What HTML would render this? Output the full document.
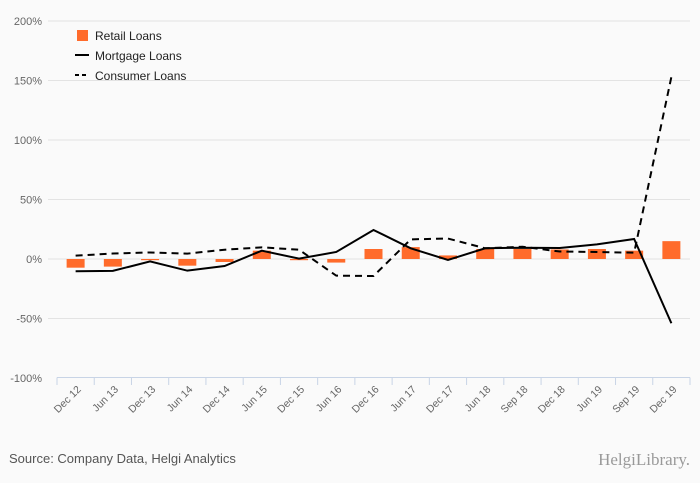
<!DOCTYPE html>
<html><head><meta charset="utf-8"><style>
body{margin:0;background:#fafafa;}
svg{display:block;font-family:"Liberation Sans",sans-serif;}
</style></head><body>
<svg id="c" width="700" height="483">
<rect width="700" height="483" fill="#fafafa"/>
</svg>
<script>
const categories=["Dec 12","Jun 13","Dec 13","Jun 14","Dec 14","Jun 15","Dec 15","Jun 16","Dec 16","Jun 17","Dec 17","Jun 18","Sep 18","Dec 18","Jun 19","Sep 19","Dec 19"];
const retailLoans=[-7.3,-6.4,-1,-5.6,-2.5,7,-1,-3,8.4,10,3,8.4,8.4,8,8.4,7,15];
const mortgageLoans=[-10.3,-10,-2,-9.8,-5.9,7,0.3,5.9,24.4,9,-0.8,9,9.5,9.2,12.3,16.8,-54];
const consumerLoans=[2.8,4.6,5.5,4.5,7.8,9.8,7.8,-14,-14.3,16.5,17.2,9,10.3,6.3,5.9,5.3,153];
const yTicks=[200,150,100,50,0,-50,-100];
const NS="http://www.w3.org/2000/svg";
const svg=document.getElementById('c');
const x0=57,x1=690,bw=(x1-x0)/categories.length;
const y=v=>259-v*1.19;
const xc=i=>x0+bw*(i+0.5);
function mk(t,a,p){const e=document.createElementNS(NS,t);for(const k in a)e.setAttribute(k,a[k]);(p||svg).appendChild(e);return e;}
yTicks.forEach(t=>{
  if(t!==-100){const g=mk('line',{x1:48,x2:690,y1:y(t),y2:y(t),stroke:'#e3e3e3','stroke-width':1});
  
  }
  const l=mk('text',{x:42,y:y(t)+4,'text-anchor':'end','font-size':11,fill:'#666'});
  l.textContent=t+'%';
  
  
});
const ax=mk('line',{x1:x0,x2:x1,y1:377.5,y2:377.5,stroke:'#c8d4e6'});


for(let i=0;i<=categories.length;i++){const t=mk('line',{x1:x0+bw*i,x2:x0+bw*i,y1:377.5,y2:385,stroke:'#c8d4e6'});

}
categories.forEach((c,i)=>{
  const t=mk('text',{x:xc(i)+6,y:390,'text-anchor':'end','font-size':10.5,fill:'#666',transform:`rotate(-45 ${xc(i)+6} 390)`});
  t.textContent=c;
  
  
});
retailLoans.forEach((v,i)=>{
  const b=mk('rect',{x:xc(i)-9,width:18,y:Math.min(y(v),y(0)),height:Math.abs(y(v)-y(0)),fill:'#ff6b2b'});
  
  
});
const line=(d,dash,name)=>{const p=mk('polyline',{points:d.map((v,i)=>xc(i)+','+y(v)).join(' '),fill:'none',stroke:'#000','stroke-width':2,'stroke-dasharray':dash});

};
line(mortgageLoans,'none','mortgage-line');
line(consumerLoans,'7,5','consumer-line');
// legend
const lg=mk('g',{});


mk('rect',{x:77,y:30,width:11,height:11,fill:'#ff6b2b'},lg);
mk('line',{x1:75,x2:89,y1:55,y2:55,stroke:'#000','stroke-width':2},lg);
mk('line',{x1:75,x2:89,y1:75,y2:75,stroke:'#000','stroke-width':2,'stroke-dasharray':'4,3'},lg);
[['Retail Loans',40],['Mortgage Loans',60],['Consumer Loans',80]].forEach(([s,yy])=>{const t=mk('text',{x:95,y:yy,'font-size':12,fill:'#222'},lg);t.textContent=s;

});
const src=mk('text',{x:9,y:463,'font-size':13,fill:'#555'});src.textContent='Source: Company Data, Helgi Analytics';


const lo=mk('text',{x:690,y:465,'text-anchor':'end','font-size':17,fill:'#999','font-family':'Liberation Serif, serif'});lo.textContent='HelgiLibrary.';


</script>
</body></html>
